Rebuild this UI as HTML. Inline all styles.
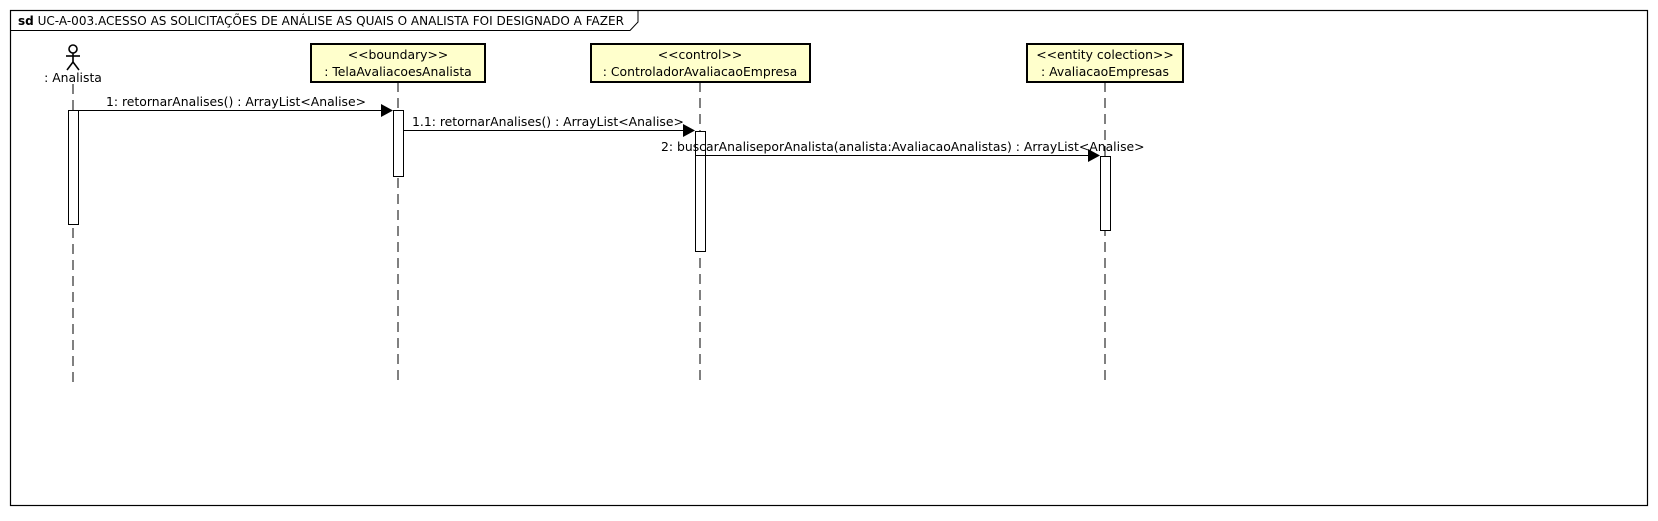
<!DOCTYPE html>
<html><head><meta charset="utf-8"><style>
html,body{margin:0;padding:0;background:#fff;}
svg text{font-family:"DejaVu Sans","Liberation Sans",sans-serif;font-size:12.4px;fill:#000;}
</style></head><body>
<svg width="1658" height="516" viewBox="0 0 1658 516" xmlns="http://www.w3.org/2000/svg">
<rect x="10.5" y="10.5" width="1637" height="495" fill="#fff" stroke="#000" stroke-width="1.2"/>
<path d="M10.5 30.5 H630 L638 22 V10.5" fill="none" stroke="#000" stroke-width="1"/>
<text x="18" y="25" textLength="606" lengthAdjust="spacingAndGlyphs"><tspan font-weight="bold">sd</tspan> UC-A-003.ACESSO AS SOLICITAÇÕES DE ANÁLISE AS QUAIS O ANALISTA FOI DESIGNADO A FAZER</text>

<g stroke="#000" stroke-width="1" stroke-dasharray="10,6">
<line x1="73" y1="84" x2="73" y2="385"/>
<line x1="398" y1="82" x2="398" y2="385"/>
<line x1="700" y1="82" x2="700" y2="385"/>
<line x1="1105" y1="82" x2="1105" y2="385"/>
</g>

<g stroke="#000" stroke-width="1.6" fill="none">
<circle cx="73" cy="49" r="4"/>
<line x1="73" y1="53" x2="73" y2="62"/>
<line x1="66" y1="56" x2="80" y2="56"/>
<line x1="73" y1="62" x2="67" y2="70"/>
<line x1="73" y1="62" x2="79" y2="70"/>
</g>
<text x="73" y="82" text-anchor="middle">: Analista</text>

<rect x="311" y="44" width="174" height="38" fill="#ffffcc" stroke="#000" stroke-width="2"/>
<text x="398" y="59" text-anchor="middle">&lt;&lt;boundary&gt;&gt;</text>
<text x="398" y="76" text-anchor="middle">: TelaAvaliacoesAnalista</text>
<rect x="591" y="44" width="219" height="38" fill="#ffffcc" stroke="#000" stroke-width="2"/>
<text x="700" y="59" text-anchor="middle">&lt;&lt;control&gt;&gt;</text>
<text x="700" y="76" text-anchor="middle">: ControladorAvaliacaoEmpresa</text>
<rect x="1027" y="44" width="156" height="38" fill="#ffffcc" stroke="#000" stroke-width="2"/>
<text x="1105" y="59" text-anchor="middle">&lt;&lt;entity colection&gt;&gt;</text>
<text x="1105" y="76" text-anchor="middle">: AvaliacaoEmpresas</text>

<g fill="#fff" stroke="#000" stroke-width="1">
<rect x="68.5" y="110.5" width="10" height="114"/>
<rect x="393.5" y="110.5" width="10" height="66"/>
<rect x="695.5" y="131.5" width="10" height="120"/>
<rect x="695.5" y="131.5" width="10" height="24"/>
<rect x="1100.5" y="156.5" width="10" height="74"/>
</g>

<g stroke="#000" stroke-width="1">
<line x1="78" y1="110.5" x2="382" y2="110.5"/>
<line x1="404" y1="130.5" x2="684" y2="130.5"/>
<line x1="706" y1="155.5" x2="1089" y2="155.5"/>
</g>
<polygon points="381,104 393,110.5 381,117" fill="#000"/>
<polygon points="683,124 695,130.5 683,137" fill="#000"/>
<polygon points="1088,149 1100,155.5 1088,162" fill="#000"/>
<text x="236" y="106" text-anchor="middle">1: retornarAnalises() : ArrayList&lt;Analise&gt;</text>
<text x="412" y="126">1.1: retornarAnalises() : ArrayList&lt;Analise&gt;</text>
<text x="661" y="151">2: buscarAnaliseporAnalista(analista:AvaliacaoAnalistas) : ArrayList&lt;Analise&gt;</text>
</svg>
</body></html>
